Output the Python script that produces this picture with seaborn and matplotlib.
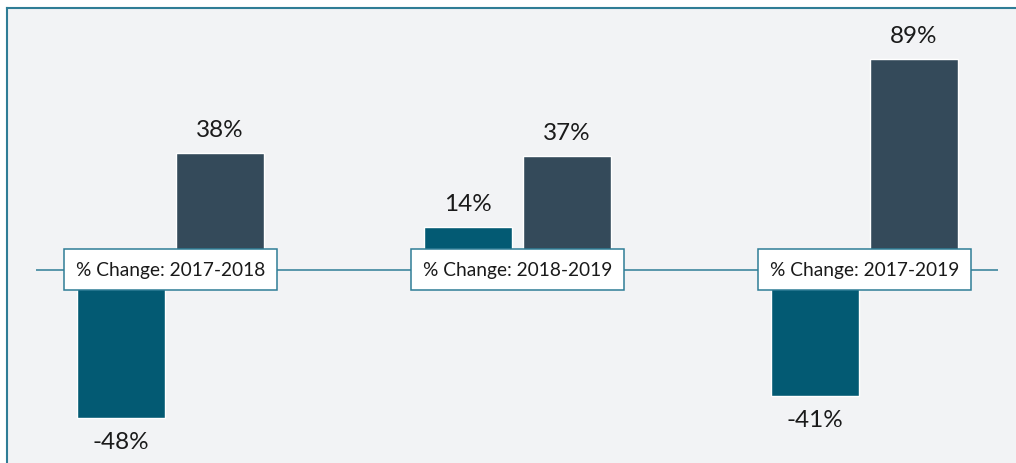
import numpy as np
import pandas as pd
import matplotlib
matplotlib.use("Agg")
import matplotlib.pyplot as plt
import seaborn as sns

# data
periods = ["% Change: 2017-2018", "% Change: 2018-2019", "% Change: 2017-2019"]
series_a = [-48, 14, -41]
series_b = [38, 37, 89]
series_names = ["Series A", "Series B"]

df = pd.DataFrame({
    "period": periods * 2,
    "series": [series_names[0]] * 3 + [series_names[1]] * 3,
    "change": series_a + series_b,
})

teal = "#035a73"
slate = "#344a5a"
line_teal = "#2f7d96"
bg = "#f2f3f5"

sns.set_theme(style="white")
plt.rcParams["font.family"] = ["Lato", "DejaVu Sans"]

fig = plt.figure(figsize=(10.16, 4.64), dpi=100)
ax = fig.add_axes([7 / 1016, 0, 1 - 7 / 1016, 455 / 464])
ax.set_facecolor(bg)

sns.barplot(data=df, x="period", y="change", hue="series", order=periods,
            hue_order=series_names, palette=[teal, slate], saturation=1,
            width=0.57, gap=0.11, legend=False, ax=ax)

# the original squeezes the tallest bar, so compress values above 50
k = 0.474
def fwd(y):
    y = np.asarray(y, dtype=float)
    return np.where(y <= 50, y, 50 + (y - 50) * k)

def inv(t):
    t = np.asarray(t, dtype=float)
    return np.where(t <= 50, t, 50 + (t - 50) / k)

ax.set_yscale("function", functions=(fwd, inv))
ax.set_ylim(-62.7, inv(85.0))
ax.set_xlim(-0.471, 2.437)

# value labels
for cont in ax.containers:
    for bar in cont:
        h = bar.get_height()
        x = bar.get_x() + bar.get_width() / 2
        off = 17 if h >= 0 else -17
        ax.annotate(f"{h:.0f}%", (x, h), xytext=(0, off), textcoords="offset points",
                    ha="center", va="center", fontsize=17.5, color="#1a1a1a")

# zero line and category boxes
ax.hlines(0, -0.388, 2.385, color=line_teal, lw=1.1, zorder=1)
for i, p in enumerate(periods):
    ax.text(i, 0, p, ha="center", va="center", fontsize=13.8, color="#1a1a1a", zorder=5,
            bbox=dict(boxstyle="square,pad=0.62", fc="white", ec=line_teal, lw=1.1))

ax.set_xticks([])
ax.set_yticks([])
ax.set_xlabel("")
ax.set_ylabel("")
for s in ["right", "bottom"]:
    ax.spines[s].set_visible(False)
for s in ["top", "left"]:
    ax.spines[s].set_color(line_teal)
    ax.spines[s].set_linewidth(1.5)

fig.savefig("out.png", dpi=100, facecolor="white")
